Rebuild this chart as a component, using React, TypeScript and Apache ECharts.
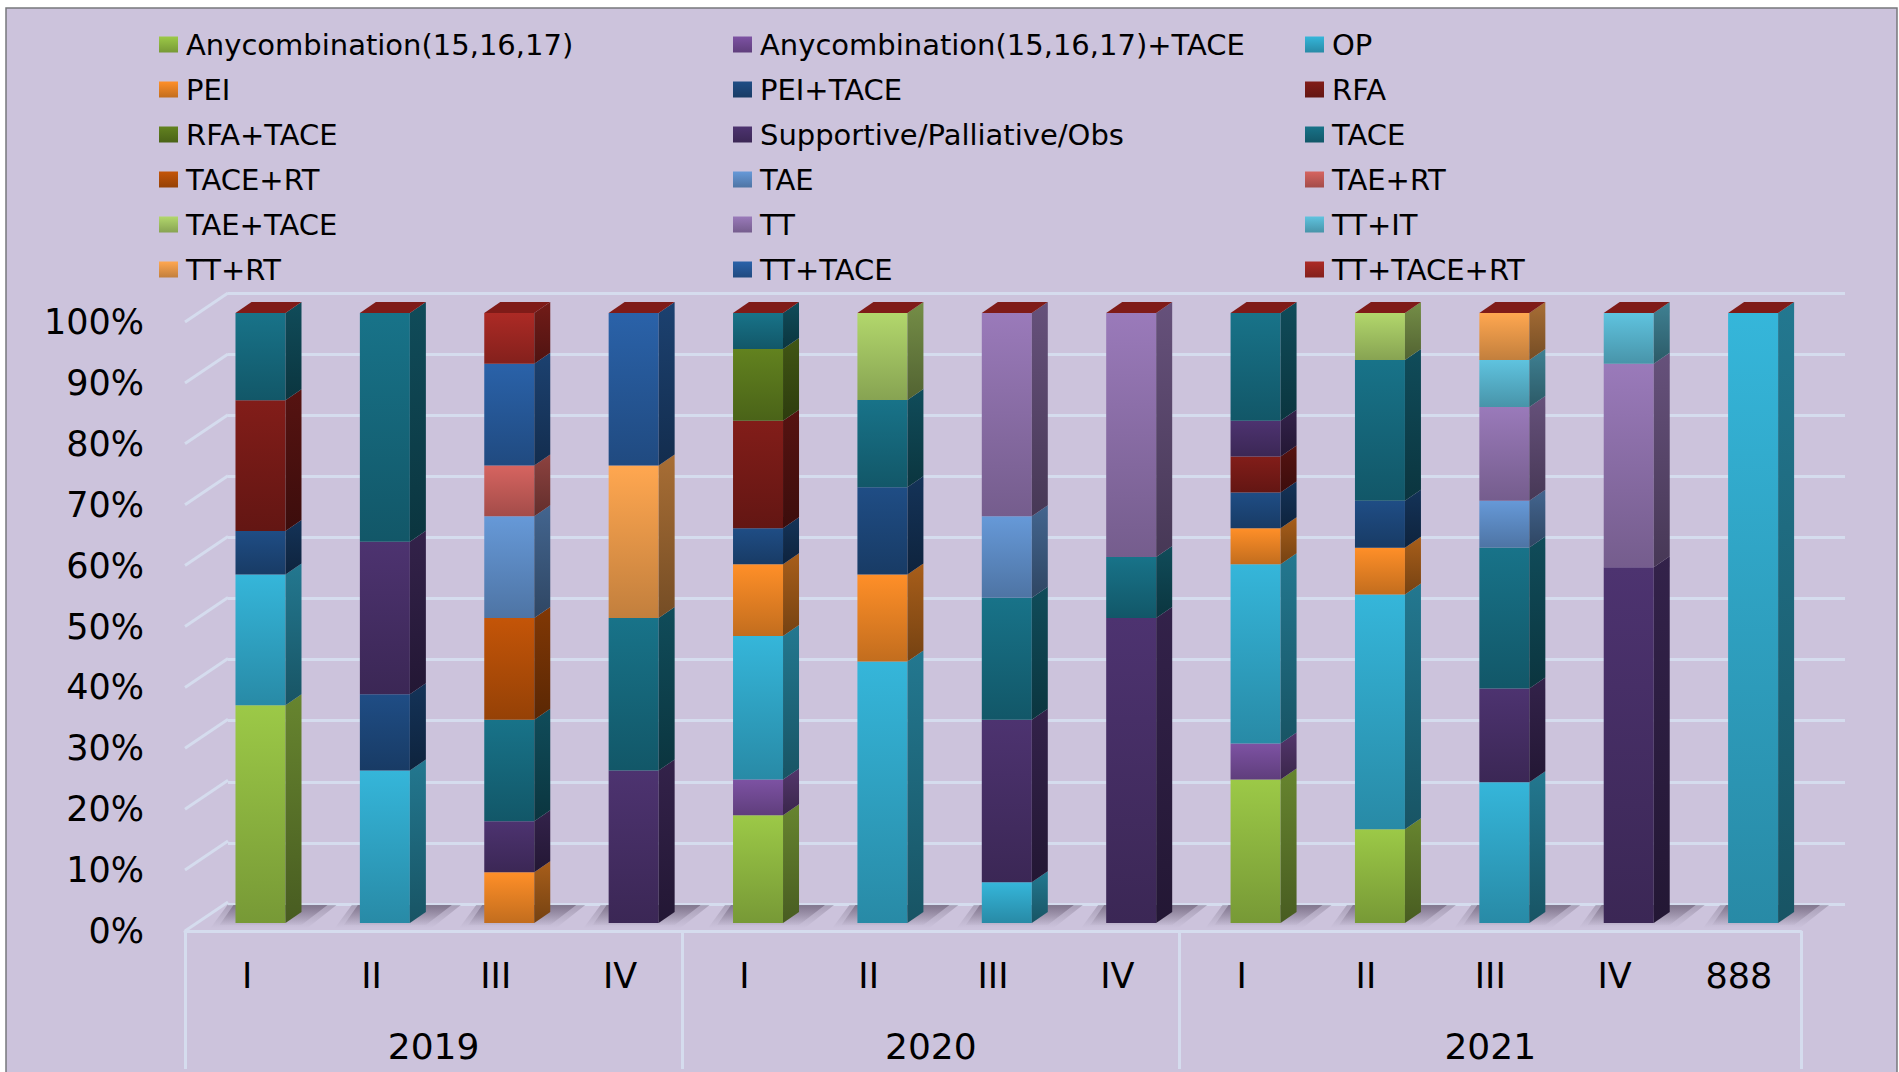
import React, { useEffect, useRef } from "react";
import * as echarts from "echarts";

const stages = ["I", "II", "III", "IV", "I", "II", "III", "IV", "I", "II", "III", "IV", "888"];
const years = ["2019", "2020", "2021"];
const yearCentres = [2, 6, 10.5];
const yearEdges = [0, 4, 8, 13];
const wallTicks = [0, 10, 20, 30, 40, 50, 60, 70, 80, 90, 100];

const anyCombo = [35.71, 0, 0, 0, 17.65, 0, 0, 0, 23.53, 15.38, 0, 0, 0];
const anyComboTace = [0, 0, 0, 0, 5.88, 0, 0, 0, 5.88, 0, 0, 0, 0];
const op = [21.43, 25, 0, 0, 23.53, 42.86, 6.67, 0, 29.41, 38.46, 23.08, 0, 100];
const pei = [0, 0, 8.33, 0, 11.76, 14.29, 0, 0, 5.88, 7.69, 0, 0, 0];
const peiTace = [7.14, 12.5, 0, 0, 5.88, 14.29, 0, 0, 5.88, 7.69, 0, 0, 0];
const rfa = [21.43, 0, 0, 0, 17.65, 0, 0, 0, 5.88, 0, 0, 0, 0];
const rfaTace = [0, 0, 0, 0, 11.76, 0, 0, 0, 0, 0, 0, 0, 0];
const supportive = [0, 25, 8.33, 25, 0, 0, 26.67, 50, 5.88, 0, 15.38, 58.33, 0];
const tace = [14.29, 37.5, 16.67, 25, 5.88, 14.29, 20, 10, 17.65, 23.08, 23.08, 0, 0];
const taceRt = [0, 0, 16.67, 0, 0, 0, 0, 0, 0, 0, 0, 0, 0];
const tae = [0, 0, 16.67, 0, 0, 0, 13.33, 0, 0, 0, 7.69, 0, 0];
const taeRt = [0, 0, 8.33, 0, 0, 0, 0, 0, 0, 0, 0, 0, 0];
const taeTace = [0, 0, 0, 0, 0, 14.29, 0, 0, 0, 7.69, 0, 0, 0];
const tt = [0, 0, 0, 0, 0, 0, 33.33, 40, 0, 0, 15.38, 33.33, 0];
const ttIt = [0, 0, 0, 0, 0, 0, 0, 0, 0, 0, 7.69, 8.33, 0];
const ttRt = [0, 0, 0, 25, 0, 0, 0, 0, 0, 0, 7.69, 0, 0];
const ttTace = [0, 0, 16.67, 25, 0, 0, 0, 0, 0, 0, 0, 0, 0];
const ttTaceRt = [0, 0, 8.33, 0, 0, 0, 0, 0, 0, 0, 0, 0, 0];

const names = [
  "Anycombination(15,16,17)", "Anycombination(15,16,17)+TACE", "OP",
  "PEI", "PEI+TACE", "RFA",
  "RFA+TACE", "Supportive/Palliative/Obs", "TACE",
  "TACE+RT", "TAE", "TAE+RT",
  "TAE+TACE", "TT", "TT+IT",
  "TT+RT", "TT+TACE", "TT+TACE+RT",
];
const values = [
  anyCombo, anyComboTace, op, pei, peiTace, rfa, rfaTace, supportive, tace,
  taceRt, tae, taeRt, taeTace, tt, ttIt, ttRt, ttTace, ttTaceRt,
];
const colors = [
  "#9CC947", "#7D52A3", "#35B6DA", "#FF8F28", "#1F4D85", "#821D19",
  "#62821F", "#4D3370", "#187389", "#C45508", "#6699D8", "#D66460",
  "#B2D76C", "#9A7ABA", "#5FC3DF", "#FFA750", "#2A62A9", "#AC2A25",
];

const FONT = "'DejaVu Sans'";
const LINE = "#D5DCEE";
const CAP = "#7F1B18";
const HALF_BAR = 25;
const DEPTH_X = 16;
const DEPTH_Y = 11;
const FRONT_X = 43;
const FRONT_Y = 29;

function shade(hex: string, k: number) {
  const n = parseInt(hex.slice(1), 16);
  const c = [(n >> 16) & 255, (n >> 8) & 255, n & 255].map((v) => Math.round(v * k));
  return `rgb(${c[0]},${c[1]},${c[2]})`;
}
function vertical(top: string, bottom: string) {
  return new echarts.graphic.LinearGradient(0, 0, 0, 1, [
    { offset: 0, color: top },
    { offset: 1, color: bottom },
  ]);
}

const segments: number[][] = [];
const totals = stages.map(() => 0);
values.forEach((row, s) => {
  row.forEach((v, c) => {
    if (v > 0) {
      segments.push([c, totals[c], totals[c] + v, s]);
      totals[c] += v;
    }
  });
});

function legendColumn(left: number, offset: number) {
  return {
    orient: "vertical",
    left,
    top: 25,
    itemWidth: 19,
    itemHeight: 16,
    itemGap: 16,
    icon: "rect",
    selectedMode: false,
    data: names.filter((_, i) => i % 3 === offset),
    textStyle: { fontFamily: FONT, fontSize: 29, color: "#000", padding: [0, 0, 0, 3] },
  };
}

export default function App() {
  const ref = useRef<HTMLDivElement>(null);
  useEffect(() => {
    const chart = echarts.init(ref.current!, undefined, { renderer: "svg" });
    chart.setOption({
      animation: false,
      backgroundColor: "#FFFFFF",
      graphic: [
        {
          type: "rect",
          z: -10,
          shape: { x: 6, y: 8, width: 1891, height: 1080 },
          style: { fill: "#CCC3DC", stroke: "#77787C", lineWidth: 1.5 },
        },
      ],
      legend: [legendColumn(154, 0), legendColumn(728, 1), legendColumn(1300, 2)],
      grid: [
        { left: 185, top: 322, width: 1616, height: 609 },
        { left: 228, top: 293, width: 1617, height: 611 },
        { left: 198.3, top: 313, width: 1617, height: 610 },
      ],
      xAxis: [
        {
          type: "category",
          gridIndex: 0,
          data: stages,
          axisLine: { show: true, lineStyle: { color: LINE, width: 3 } },
          axisTick: { show: false },
          axisLabel: { interval: 0, margin: 27, fontFamily: FONT, fontSize: 35, color: "#000" },
        },
        {
          type: "value",
          gridIndex: 0,
          position: "bottom",
          min: 0,
          max: 13,
          splitLine: { show: false },
          axisLine: { show: false },
          axisTick: { show: true, length: 138, customValues: yearEdges, lineStyle: { color: LINE, width: 3 } },
          axisLabel: {
            show: true,
            customValues: yearCentres,
            margin: 97,
            fontFamily: FONT,
            fontSize: 36,
            color: "#000",
            formatter: (v: number) => years[yearCentres.indexOf(v)],
          },
        },
        { type: "category", gridIndex: 1, data: stages, show: false },
        { type: "category", gridIndex: 2, data: stages, show: false },
      ],
      yAxis: [
        {
          type: "value",
          gridIndex: 0,
          min: 0,
          max: 100,
          interval: 10,
          splitLine: { show: false },
          axisLine: { show: false },
          axisTick: { show: false },
          axisLabel: { margin: 41, fontFamily: FONT, fontSize: 35, color: "#000", formatter: "{value}%" },
        },
        {
          type: "value",
          gridIndex: 1,
          min: 0,
          max: 100,
          interval: 10,
          axisLine: { show: false },
          axisTick: { show: false },
          axisLabel: { show: false },
          splitLine: { show: true, lineStyle: { color: LINE, width: 3 } },
        },
        { type: "value", gridIndex: 2, min: 0, max: 100, interval: 10, show: false },
      ],
      series: [
        {
          type: "custom",
          name: "wall-diagonals",
          silent: true,
          xAxisIndex: 1,
          yAxisIndex: 0,
          z: 1,
          clip: false,
          data: wallTicks.map((t) => [0, t]),
          renderItem: (_: any, api: any) => {
            const p = api.coord([api.value(0), api.value(1)]);
            return {
              type: "line",
              shape: { x1: p[0], y1: p[1], x2: p[0] + FRONT_X, y2: p[1] - FRONT_Y },
              style: { stroke: LINE, lineWidth: 3 },
            };
          },
        },
        {
          type: "custom",
          name: "floor-shadow",
          silent: true,
          xAxisIndex: 3,
          yAxisIndex: 2,
          z: 1,
          clip: false,
          data: stages.map((_, i) => [i, 0]),
          renderItem: (_: any, api: any) => {
            const p = api.coord([api.value(0), 0]);
            const x = p[0] - HALF_BAR;
            const y = p[1];
            return {
              type: "group",
              children: [
                {
                  type: "polygon",
                  shape: { points: [[x - 8, y - 18], [x + 101, y - 18], [x + 72, y + 5], [x - 25, y + 5]] },
                  style: { fill: vertical("rgba(127,116,139,0.45)", "rgba(127,116,139,0)") },
                },
                {
                  type: "polygon",
                  shape: { points: [[x - 2, y - 18], [x + 92, y - 18], [x + 66, y + 2], [x - 16, y + 2]] },
                  style: { fill: vertical("rgba(120,108,132,0.8)", "rgba(127,116,139,0.05)") },
                },
              ],
            };
          },
        },
        ...names.map((name, i) => ({
          type: "bar",
          name,
          stack: "total",
          xAxisIndex: 3,
          yAxisIndex: 2,
          barWidth: 50,
          z: 3,
          clip: false,
          data: values[i],
          itemStyle: { color: vertical(colors[i], shade(colors[i], 0.76)) },
        })),
        {
          type: "custom",
          name: "bar-depth",
          silent: true,
          xAxisIndex: 3,
          yAxisIndex: 2,
          z: 4,
          clip: false,
          data: segments,
          renderItem: (params: any, api: any) => {
            const seg = segments[params.dataIndex];
            const top = api.coord([seg[0], seg[2]]);
            const base = api.coord([seg[0], seg[1]]);
            const x = top[0] + HALF_BAR;
            const children: any[] = [
              {
                type: "polygon",
                shape: {
                  points: [
                    [x, top[1]],
                    [x + DEPTH_X, top[1] - DEPTH_Y],
                    [x + DEPTH_X, base[1] - DEPTH_Y],
                    [x, base[1]],
                  ],
                },
                style: { fill: vertical(shade(colors[seg[3]], 0.66), shade(colors[seg[3]], 0.46)) },
              },
            ];
            if (seg[2] >= totals[seg[0]] - 0.001) {
              const l = top[0] - HALF_BAR;
              children.push({
                type: "polygon",
                shape: {
                  points: [
                    [l, top[1]],
                    [l + DEPTH_X, top[1] - DEPTH_Y],
                    [x + DEPTH_X, top[1] - DEPTH_Y],
                    [x, top[1]],
                  ],
                },
                style: { fill: CAP },
              });
            }
            return { type: "group", children };
          },
        },
      ],
    });
    return () => chart.dispose();
  }, []);
  return <div ref={ref} style={{ position: "fixed", left: 0, top: 0, width: 1899, height: 1072 }} />;
}
